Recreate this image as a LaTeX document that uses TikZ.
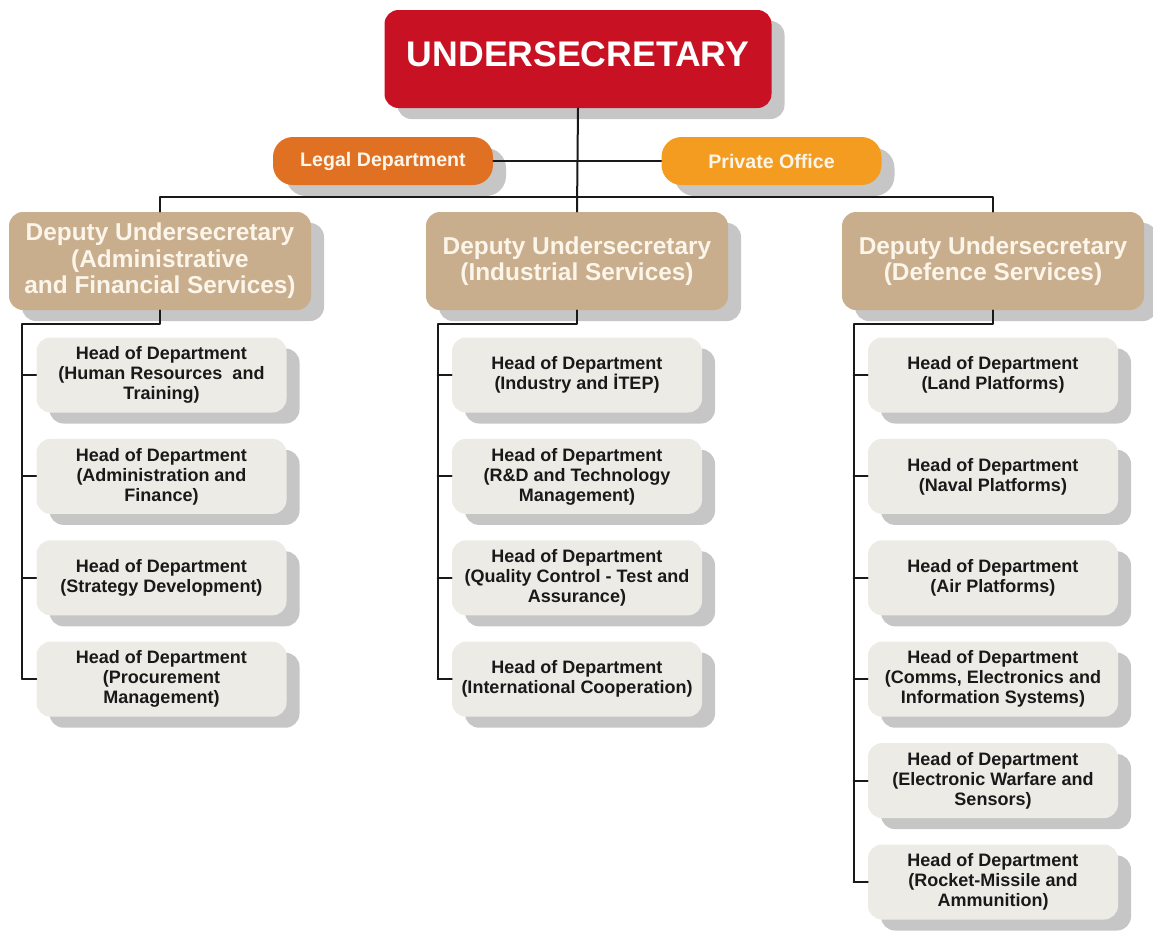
\documentclass[tikz,border=0pt]{standalone}
\usepackage{fontspec}
\setmainfont{Liberation Sans}
\usetikzlibrary{shadows}
\definecolor{usred}{RGB}{200,18,36}
\definecolor{legalorange}{RGB}{224,112,34}
\definecolor{privorange}{RGB}{244,156,32}
\definecolor{deptan}{RGB}{201,174,142}
\definecolor{deptext}{RGB}{252,245,234}
\definecolor{headgray}{RGB}{237,235,230}
\definecolor{shadowgray}{RGB}{198,198,198}
\begin{document}
\begin{tikzpicture}[x=0.5pt, y=-0.5pt, line join=round, line cap=round,
		box/.style={rounded corners=7pt, align=center, inner sep=0pt,
			drop shadow={shadow xshift=6.5pt, shadow yshift=-5.5pt, fill=shadowgray, opacity=1}},
		topbox/.style={box, fill=usred, text=white, minimum width=193.5pt, minimum height=49pt,
			font=\bfseries\fontsize{17.8}{20}\selectfont, text height=12.7pt, text depth=5pt},
		sidebox/.style={box, rounded corners=10pt, text=deptext, minimum width=110pt, minimum height=24pt,
			font=\bfseries\fontsize{9.8}{12}\selectfont},
		depbox/.style={box, fill=deptan, text=deptext, minimum width=151pt, minimum height=49pt,
			font=\bfseries\fontsize{12.2}{13.3}\selectfont},
		headbox/.style={box, fill=headgray, text=black!90, minimum width=125pt, minimum height=37.5pt,
			font=\bfseries\fontsize{9}{10}\selectfont},
		conn/.style={line width=1pt, draw=black!90}]
	\useasboundingbox (0,0) rectangle (1153,932);
	\node[topbox] (us) at (578,59) {UNDERSECRETARY};
	\node[sidebox, fill=legalorange] (legal) at (383,161) {Legal Department};
	\node[sidebox, fill=privorange] (private) at (771.5,161) {Private Office};
	\node[depbox] (dep1) at (160,261) {Deputy Undersecretary\\(Administrative\\and Financial Services)};
	\node[depbox] (dep2) at (577,261) {Deputy Undersecretary\\(Industrial Services)};
	\node[depbox] (dep3) at (993,261) {Deputy Undersecretary\\(Defence Services)};
	\foreach \i/\t in {1/{Head of Department\\(Human Resources\ \ and\\Training)},
			2/{Head of Department\\(Administration and\\Finance)},
			3/{Head of Department\\(Strategy Development)},
			4/{Head of Department\\(Procurement\\Management)}}
		\node[headbox] (h1-\i) at (161.5,{375+101.4*(\i-1)}) {\t};
	\foreach \i/\t in {1/{Head of Department\\(Industry and İTEP)},
			2/{Head of Department\\(R\&D and Technology\\Management)},
			3/{Head of Department\\(Quality Control - Test and\\Assurance)},
			4/{Head of Department\\(International Cooperation)}}
		\node[headbox] (h2-\i) at (577,{375+101.4*(\i-1)}) {\t};
	\foreach \i/\t in {1/{Head of Department\\(Land Platforms)},
			2/{Head of Department\\(Naval Platforms)},
			3/{Head of Department\\(Air Platforms)},
			4/{Head of Department\\(Comms, Electronics and\\Information Systems)},
			5/{Head of Department\\(Electronic Warfare and\\Sensors)},
			6/{Head of Department\\(Rocket-Missile and\\Ammunition)}}
		\node[headbox] (h3-\i) at (993,{375+101.4*(\i-1)}) {\t};
	\draw[conn] (us.south) -- (dep2.north);
	\draw[conn] (legal.east) -- (private.west);
	\draw[conn] (dep1.north) -- ++(0,-15) -| (dep3.north);
	\foreach \c/\n in {1/4,2/4,3/6}{
		\draw[conn] (dep\c.south) -- ++(0,14) -| ([xshift=-7pt]h\c-\n.west) -- (h\c-\n.west);
		\foreach \i in {1,...,\n}\draw[conn] (h\c-\i.west) -- ++(-14,0);
	}
\end{tikzpicture}
\end{document}
